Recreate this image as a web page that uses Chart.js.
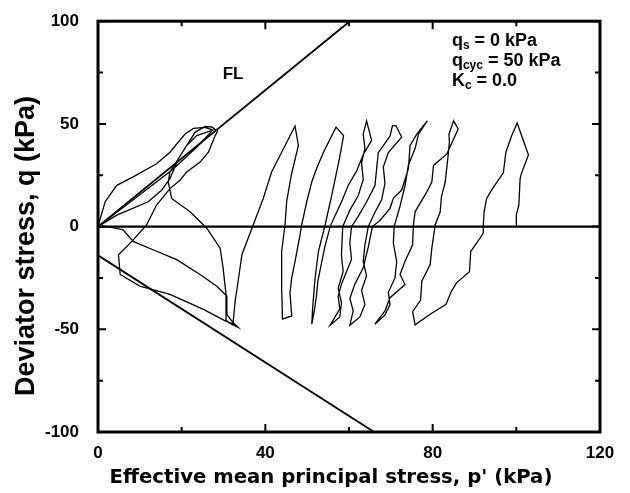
<!DOCTYPE html>
<html>
<head>
<meta charset="utf-8">
<script src="https://cdn.jsdelivr.net/npm/chart.js@4.4.1/dist/chart.umd.min.js"></script>
<style>
  html, body { margin: 0; padding: 0; background: #fff; }
  #wrap { width: 630px; height: 493px; }
</style>
</head>
<body>
<div id="wrap"><canvas id="stress-path-canvas" width="630" height="493"></canvas></div>
<script>
// stress path, p' (kPa) / q (kPa), one array pair per load cycle
const loop1P = [100, 100, 100.6, 100.9, 101.2, 102.9, 100.2, 98.9, 97.5, 96.9, 94.3, 92.9, 92.3, 92.1, 92.1, 90.5, 89.1, 88.8, 85.7, 84.5, 83.2, 79.4, 75.8]
const loop1Q = [0, 5.8, 10.5, 23.3, 25.8, 34.9, 50.4, 44.3, 36.2, 26.2, 18.5, 13.7, 7.2, 0.8, -3.2, -8.1, -12.1, -22, -27.4, -31.4, -37.8, -42.7, -47.8]
const loop2P = [75.2, 77.1, 77.4, 79.4, 79.8, 80.6, 81.8, 82.1, 83, 83.7, 84, 83.9, 85, 86.1, 83.4, 80.2, 79.8, 78.6, 75.8, 75.4, 75.2, 73.4, 72.2, 73.4, 69.8, 68.6, 66.2]
const loop2Q = [-41.4, -35.9, -26.6, -18.5, -10.5, 0.8, 7.2, 14.5, 21.7, 34.6, 41, 45, 51.5, 47.5, 35.4, 29.8, 21.7, 16.9, 7.2, 0.8, -8.9, -16.9, -23.3, -28.2, -34.6, -41, -47.5]
const loop3P = [68.6, 69.8, 69.4, 71, 71.4, 70.6, 70.8, 72.2, 73.4, 74.2, 75.8, 76.6, 78.7, 76.2, 74.6, 74.2, 72.6, 70.6, 69.8, 67.4, 65.6, 64.6, 63.4, 61.4, 60.2, 61, 60.2]
const loop3Q = [-43, -38, -32, -25, -17, -8, 0, 10, 20, 30, 38, 45, 51.5, 45, 39.5, 28.2, 17.8, 13.8, 8.9, 3, 0, -10, -20, -28, -35, -41, -48]
const loop4P = [62.6, 63.8, 63, 64.2, 63.4, 63.8, 64.6, 66.2, 67.8, 68.6, 68.2, 69.4, 72.6, 71.2, 70.4, 69.8, 67, 66.6, 66.2, 64.2, 62.2, 60.6, 60.2, 60.6, 59.4, 58.2, 57.4, 57.8, 55.5]
const loop4Q = [-44, -38, -31, -24, -17, -9, 0, 7, 13, 21, 29, 36, 43.5, 49.2, 49.2, 44, 36, 28, 20, 12, 5, 0, -8, -16, -22, -28, -34, -40, -48]
const loop5P = [57.8, 58.2, 57.4, 58.6, 58.2, 58.5, 60.2, 62.2, 63.4, 63, 63.8, 63.4, 64.2, 65.4, 63.4, 61.8, 59.8, 58.2, 56.6, 55.5, 54.2, 53.4, 52.6, 52.2, 51.8, 51.1]
const loop5Q = [-44, -37, -30, -22, -14, 0, 8, 15, 23, 31, 38, 45, 51.5, 42, 35, 27, 20, 12, 5, 0, -10, -18, -26, -34, -40, -47.5]
const loop6P = [51.3, 51.5, 51.9, 52.7, 54.3, 55.9, 57.7, 58.7, 56.9, 53.9, 52.2, 51.1, 49.9, 48.6, 48.3, 47.1, 46.3, 45.9, 46.3, 44.1]
const loop6Q = [-40, -34.6, -24.9, -12, 0.9, 15.4, 33, 44.3, 48.4, 36.2, 28, 21.7, 12.1, 0, -4, -16.9, -25, -32.2, -43.5, -45]
const loop7P = [43.9, 43.9, 44.7, 45.1, 46.2, 47.9, 47.1, 44.3, 41.5, 39.5, 37.1, 34.4, 33.5, 32.8, 32.3, 33.5]
const loop7Q = [-30, -12.1, 0.8, 12.1, 25, 39.5, 49, 37.8, 26.6, 13.7, 0.8, -13.7, -26.6, -36, -46.7, -49.1]
// butterfly loops near the origin (liquefaction)
const tailP = [31.6, 30.8, 30.6, 30.6, 29.9, 29.2, 26, 22, 17.6, 16.8, 17.2, 19.2, 21.2, 23.2, 25.6, 27.2, 28.6, 28, 26.4, 24.4, 21.2, 19.6, 17.2, 14, 11.6, 8.1, 4.9, 5.3, 10, 17.2, 25.2, 30.4, 32.6, 30.8, 30.8, 28.4, 24.4, 18.8, 14, 8.4, 6, 3, 0, 1.7, 4.5, 8.4, 14, 17.2, 20.8, 22.8, 25.6, 27.5, 23.6, 21.2, 19.2, 17.2, 15.2, 12, 4.5, 0, 10, 18, 24, 27.2]
const tailQ = [-47.2, -45.9, -42.7, -33, -20.1, -10.5, -0.8, 7.2, 13.7, 21.7, 26.6, 33, 39.5, 45.9, 48.8, 48.5, 46.5, 44.3, 36.2, 31.4, 26.6, 22.6, 18.5, 10.5, 0.8, -7.2, -13.7, -23.3, -29, -33, -40.3, -45.9, -47.6, -42.7, -33.8, -29, -23.3, -16.1, -12, -7.2, -1.6, -0.3, 0, 12.1, 20.1, 24.2, 30.6, 36.2, 45.1, 47.8, 48.3, 47, 44.3, 39.5, 33, 23.3, 17.7, 12.1, 5.6, 0, 15.5, 28, 39.5, 46.5]

// failure lines and axis line
const flUpperP = [0, 60.2]
const flUpperQ = [0, 100]
const flLowerP = [0, 66]
const flLowerQ = [-14, -100]
const zeroP = [0, 120]
const zeroQ = [0, 0]

// tick values
const xTicks = [0, 20, 40, 60, 80, 100, 120]
const xLabelTicks = [0, 40, 80, 120]
const yTicks = [-100, -75, -50, -25, 0, 25, 50, 75, 100]
const yLabelTicks = [-100, -50, 0, 50, 100]

const xTitle = "Effective mean principal stress, p' (kPa)"
const yTitle = 'Deviator stress, q (kPa)'

const FONT = "'Liberation Sans', Arial, Helvetica, sans-serif"

function toPoints(px, qy) {
  return px.map((v, i) => ({ x: v, y: qy[i] }))
}

const pathP = [].concat(loop1P, loop2P, loop3P, loop4P, loop5P, loop6P, loop7P, tailP)
const pathQ = [].concat(loop1Q, loop2Q, loop3Q, loop4Q, loop5Q, loop6Q, loop7Q, tailQ)

// frame, inward ticks, axis titles and the text inside the plot
const frameTicks = {
  id: 'frameTicks',
  afterDraw(chart) {
    const { ctx, chartArea: a, scales: { x, y } } = chart
    ctx.save()
    ctx.strokeStyle = '#000'
    ctx.lineWidth = 3
    ctx.strokeRect(a.left, a.top, a.right - a.left, a.bottom - a.top)

    ctx.lineWidth = 2
    ctx.beginPath()
    xTicks.forEach(v => {
      const px = x.getPixelForValue(v)
      const len = xLabelTicks.includes(v) ? 8 : 5
      ctx.moveTo(px, a.bottom); ctx.lineTo(px, a.bottom - len)
      ctx.moveTo(px, a.top); ctx.lineTo(px, a.top + len)
    })
    yTicks.forEach(v => {
      const py = y.getPixelForValue(v)
      const len = yLabelTicks.includes(v) ? 8 : 5
      ctx.moveTo(a.left, py); ctx.lineTo(a.left + len, py)
      ctx.moveTo(a.right, py); ctx.lineTo(a.right - len, py)
    })
    ctx.stroke()

    ctx.fillStyle = '#000'
    ctx.textBaseline = 'alphabetic'

    // axis titles
    ctx.textAlign = 'center'
    ctx.font = "bold 19.7px 'DejaVu Sans', sans-serif"
    ctx.fillText(xTitle, 331, 483)
    ctx.save()
    ctx.translate(34, 246)
    ctx.rotate(-Math.PI / 2)
    ctx.font = 'bold 27px ' + FONT
    ctx.fillText(yTitle, 0, 0)
    ctx.restore()

    // FL label
    ctx.textAlign = 'left'
    ctx.font = 'bold 17px ' + FONT
    ctx.fillText('FL', x.getPixelForValue(29.8), y.getPixelForValue(72))

    // test conditions
    const tx = x.getPixelForValue(84.6)
    const lines = [
      ['q', 's', ' = 0 kPa', 87.9],
      ['q', 'cyc', ' = 50 kPa', 78.3],
      ['K', 'c', ' = 0.0', 68.6],
    ]
    lines.forEach(l => {
      const by = y.getPixelForValue(l[3])
      let cx = tx
      ctx.font = 'bold 18px ' + FONT
      ctx.fillText(l[0], cx, by)
      cx += ctx.measureText(l[0]).width
      ctx.font = 'bold 12px ' + FONT
      ctx.fillText(l[1], cx, by + 3)
      cx += ctx.measureText(l[1]).width
      ctx.font = 'bold 18px ' + FONT
      ctx.fillText(l[2], cx, by)
    })
    ctx.restore()
  },
}

const ctx = document.getElementById('stress-path-canvas').getContext('2d')

const stressChart = new Chart(ctx, {
  type: 'scatter',
  data: {
    datasets: [
      {
        data: toPoints(zeroP, zeroQ),
        showLine: true,
        borderColor: '#000',
        borderWidth: 2.2,
        pointRadius: 0,
      },
      {
        data: toPoints(flUpperP, flUpperQ),
        showLine: true,
        borderColor: '#000',
        borderWidth: 1.8,
        pointRadius: 0,
      },
      {
        data: toPoints(flLowerP, flLowerQ),
        showLine: true,
        borderColor: '#000',
        borderWidth: 1.8,
        pointRadius: 0,
      },
      {
        data: toPoints(pathP, pathQ),
        showLine: true,
        borderColor: '#000',
        borderWidth: 1.3,
        pointRadius: 0,
        tension: 0,
      },
    ],
  },
  options: {
    responsive: false,
    animation: false,
    events: [],
    layout: {
      padding: { top: 18, right: 30, left: 0, bottom: 0 },
    },
    scales: {
      x: {
        type: 'linear',
        min: 0,
        max: 120,
        afterBuildTicks: (scale) => { scale.ticks = xLabelTicks.map(v => ({ value: v })) },
        afterFit: (scale) => { scale.height = 61 },
        ticks: {
          color: '#000',
          padding: 3,
          font: { family: FONT, size: 17, weight: 'bold' },
        },
        grid: { display: false },
        border: { display: false },
      },
      y: {
        type: 'linear',
        min: -100,
        max: 100,
        afterBuildTicks: (scale) => { scale.ticks = yLabelTicks.map(v => ({ value: v })) },
        afterFit: (scale) => { scale.width = 98 },
        ticks: {
          color: '#000',
          padding: 11,
          font: { family: FONT, size: 17, weight: 'bold' },
        },
        grid: { display: false },
        border: { display: false },
      },
    },
    plugins: {
      legend: { display: false },
      tooltip: { enabled: false },
    },
  },
  plugins: [frameTicks],
})
</script>
</body>
</html>
